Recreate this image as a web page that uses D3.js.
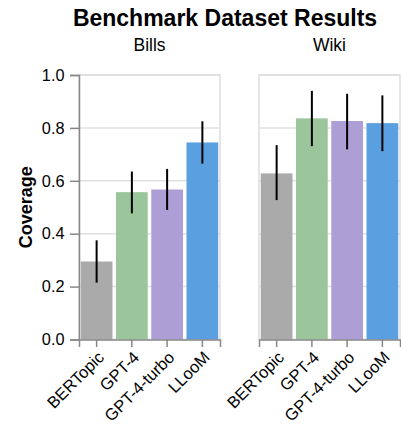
<!DOCTYPE html>
<html>
<head>
<meta charset="utf-8">
<script src="https://cdn.jsdelivr.net/npm/d3@7"></script>
<style>
  body { margin: 0; background: #fff; }
  text { font-family: "Liberation Sans", Arial, Helvetica, sans-serif; }
</style>
</head>
<body>
<svg id="render" width="401" height="430"></svg>
<script>
const methods = ['BERTopic', 'GPT-4', 'GPT-4-turbo', 'LLooM'];
const datasets = ['Bills', 'Wiki'];
const colors = ['#aaaaaa', '#9bc59a', '#ad9fd5', '#5a9fe0'];
const yTicks = [0, 0.2, 0.4, 0.6, 0.8, 1.0];

// mean coverage and error bar ends for each dataset, in method order
const billsMean = [0.295, 0.557, 0.567, 0.745];
const billsLow  = [0.215, 0.477, 0.490, 0.665];
const billsHigh = [0.375, 0.635, 0.645, 0.825];
const wikiMean  = [0.628, 0.836, 0.826, 0.818];
const wikiLow   = [0.527, 0.731, 0.719, 0.712];
const wikiHigh  = [0.735, 0.940, 0.929, 0.923];

const panels = [
    {name: datasets[0], mean: billsMean, low: billsLow, high: billsHigh},
    {name: datasets[1], mean: wikiMean, low: wikiLow, high: wikiHigh}
];

const svg = d3.select("svg#render");
const plotTop = 75, h = 264.5, w = 141;
const panelX = [79, 259];

const y = d3.scaleLinear().domain([0, 1]).range([plotTop + h, plotTop]);
const x = d3.scaleBand()
    .domain(methods)
    .range([0, w])
    .paddingInner(0.1)
    .paddingOuter(0.05);

svg.append("text")
    .attr("x", 225)
    .attr("y", 26)
    .attr("text-anchor", "middle")
    .attr("font-size", 23)
    .attr("font-weight", "bold")
    .text("Benchmark Dataset Results");

svg.append("text")
    .attr("transform", `translate(32, ${plotTop + h / 2}) rotate(-90)`)
    .attr("text-anchor", "middle")
    .attr("font-size", 18)
    .attr("font-weight", "bold")
    .text("Coverage");

panels.forEach((p, pi) => {
    const g = svg.append("g")
        .attr("transform", `translate(${panelX[pi]}, 0)`);

    g.append("text")
        .attr("x", w / 2)
        .attr("y", 51)
        .attr("text-anchor", "middle")
        .attr("font-size", 17.5)
        .text(p.name);

    // grid
    g.append("g")
        .selectAll("line")
        .data(yTicks)
        .enter()
        .append("line")
        .attr("x1", 0)
        .attr("x2", w)
        .attr("y1", d => y(d))
        .attr("y2", d => y(d))
        .attr("stroke", "#e0e0e0")
        .attr("stroke-width", 1.5);

    // frame
    g.append("rect")
        .attr("x", 0)
        .attr("y", plotTop)
        .attr("width", w)
        .attr("height", h)
        .attr("fill", "none")
        .attr("stroke", "#dddddd")
        .attr("stroke-width", 1.5);

    const rows = methods.map((m, i) => ({m, i, v: p.mean[i], lo: p.low[i], hi: p.high[i]}));

    g.append("g")
        .selectAll("rect")
        .data(rows)
        .enter()
        .append("rect")
        .attr("x", d => x(d.m))
        .attr("width", x.bandwidth())
        .attr("y", d => y(d.v))
        .attr("height", d => y(0) - y(d.v))
        .attr("fill", d => colors[d.i]);

    g.append("g")
        .selectAll("line")
        .data(rows)
        .enter()
        .append("line")
        .attr("x1", d => x(d.m) + x.bandwidth() / 2)
        .attr("x2", d => x(d.m) + x.bandwidth() / 2)
        .attr("y1", d => y(d.lo))
        .attr("y2", d => y(d.hi))
        .attr("stroke", "#000")
        .attr("stroke-width", 2);

    // x axis
    const xa = g.append("g")
        .attr("transform", `translate(0, ${plotTop + h})`)
        .call(d3.axisBottom(x).tickSize(7.5).tickPadding(3));
    xa.select(".domain").attr("stroke", "#888").attr("stroke-width", 1.5);
    xa.selectAll(".tick line").attr("stroke", "#888").attr("stroke-width", 1.5);
    xa.selectAll(".tick text")
        .attr("font-size", 16.5)
        .attr("font-family", null)
        .attr("fill", "#000")
        .attr("text-anchor", "end")
        .attr("dy", "0.72em")
        .attr("transform", "rotate(-45, 0, 10.5)");

    if (pi === 0) {
        const ya = g.append("g")
            .call(d3.axisLeft(y).tickValues(yTicks).tickFormat(d3.format(".1f")).tickSize(9).tickPadding(5.5));
        ya.select(".domain").attr("stroke", "#888").attr("stroke-width", 1.5);
        ya.selectAll(".tick line").attr("stroke", "#888").attr("stroke-width", 1.5);
        ya.selectAll(".tick text")
            .attr("font-size", 16.3)
            .attr("font-family", null)
            .attr("fill", "#000");
    }
});
</script>
</body>
</html>
